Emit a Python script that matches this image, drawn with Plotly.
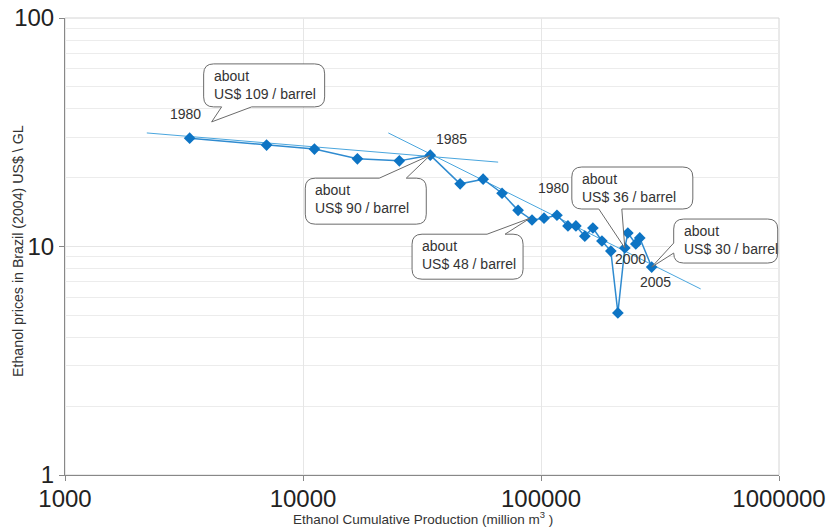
import math
import plotly.graph_objects as go

# ---------------- data ----------------
cum_production = [3340, 7030, 11170, 16930, 25400, 34260, 45730, 57130, 68600, 80120,
                  91680, 102960, 116700, 129800, 140200, 152800, 165200, 180300, 196500,
                  210400, 225000, 231700, 250200, 260000, 291800]
ethanol_price = [29.8, 27.8, 26.7, 24.2, 23.7, 25.1, 18.8, 19.7, 17.1, 14.4,
                 13.06, 13.3, 13.7, 12.3, 12.3, 11.1, 12.05, 10.57, 9.55,
                 5.12, 9.85, 11.46, 10.26, 10.9, 8.13]

trend1_x = [2207, 66050]
trend1_y = [31.4, 23.4]
trend2_x = [22830, 468800]
trend2_y = [31.4, 6.52]

year_labels = ["1980", "1985", "1980", "2000", "2005"]
year_label_index = [0, 5, 12, 20, 24]

callout_texts = ["about<br>US$ 109 / barrel", "about<br>US$ 90 / barrel",
                 "about<br>US$ 48 / barrel", "about<br>US$ 36 / barrel",
                 "about<br>US$ 30 / barrel"]
callout_tip_x = [4132, 34260, 89950, 225000, 291800]
callout_tip_y = [35.1, 25.1, 13.3, 9.85, 8.13]

x_ticks = [1000, 10000, 100000, 1000000]
x_ticktext = ["1000", "10000", "100000", "1000000"]
y_ticks = [1, 10, 100]
y_ticktext = ["1", "10", "100"]
y_minor = [2, 3, 4, 5, 6, 7, 8, 9, 20, 30, 40, 50, 60, 70, 80, 90]

x_title = "Ethanol Cumulative Production (million m<sup>3</sup> )"
y_title = "Ethanol prices in Brazil (2004) US$ \\ GL"

FONT = "Liberation Sans, Arial, sans-serif"
MARK = "#0d74c4"
LINE = "#2f8bd0"
TREND = "#4aa6de"

fig = go.Figure()
fig.add_trace(go.Scatter(x=trend1_x, y=trend1_y, mode="lines",
                         line=dict(color=TREND, width=1), hoverinfo="skip"))
fig.add_trace(go.Scatter(x=trend2_x, y=trend2_y, mode="lines",
                         line=dict(color=TREND, width=1), hoverinfo="skip"))
fig.add_trace(go.Scatter(x=cum_production, y=ethanol_price, mode="lines+markers",
                         line=dict(color=LINE, width=1.5),
                         marker=dict(symbol="diamond", size=9, color=MARK)))

# ---------------- callouts ----------------
# geometry in screen pixels relative to tip: (left, right, top, bottom), tail side, tail base (a,b)
callout_geom = [
    ((-8, 113, -58, -15), "bottom", (10, 40)),
    ((-125, -4, 23, 69), "top", (-51, -24)),
    ((-118, -7, 16, 61), "top", (-43, -25)),
    ((-53, 68, -81, -39), "bottom", (-26, -3)),
    ((22, 126, -48, -4), "left", (-24, -14)),
]


def callout_path(box, side, base, r=10):
    L, R, T, B = box
    a, b = base
    pts = []

    def P(cmd, *xy):
        coords = []
        for i in range(0, len(xy), 2):
            coords.append(f"{xy[i]},{-xy[i + 1]}")
        pts.append(cmd + " " + " ".join(coords))

    P("M", L + r, T)
    if side == "top":
        P("L", a, T); P("L", 0, 0); P("L", b, T)
    P("L", R - r, T)
    P("Q", R, T, R, T + r)
    P("L", R, B - r)
    P("Q", R, B, R - r, B)
    if side == "bottom":
        P("L", b, B); P("L", 0, 0); P("L", a, B)
    P("L", L + r, B)
    P("Q", L, B, L, B - r)
    if side == "left":
        P("L", L, b); P("L", 0, 0); P("L", L, a)
    P("L", L, T + r)
    P("Q", L, T, L + r, T)
    return " ".join(pts) + " Z"


for txt, tx, ty, (box, side, base) in zip(callout_texts, callout_tip_x, callout_tip_y, callout_geom):
    fig.add_shape(type="path", xref="x", yref="y", xsizemode="pixel", ysizemode="pixel",
                  xanchor=tx, yanchor=ty, path=callout_path(box, side, base),
                  line=dict(color="#6b6b6b", width=1), fillcolor="white", layer="above")
    fig.add_annotation(x=math.log10(tx), y=math.log10(ty), xref="x", yref="y",
                       text=txt, showarrow=False, xanchor="left", yanchor="top",
                       align="left", xshift=box[0] + 8, yshift=-(box[2] + 2),
                       font=dict(family=FONT, size=14, color="#333333"))

# ---------------- year labels ----------------
year_offsets = [(-4, 24), (21, 16), (-3, 27), (6, -11), (4, -15)]
for lab, idx, (dx, dy) in zip(year_labels, year_label_index, year_offsets):
    fig.add_annotation(x=math.log10(cum_production[idx]), y=math.log10(ethanol_price[idx]),
                       xref="x", yref="y", text=lab, showarrow=False,
                       xshift=dx, yshift=dy,
                       font=dict(family=FONT, size=14, color="#333333"))

# axis titles
fig.add_annotation(x=0.502, y=-0.094, xref="paper", yref="paper", text=x_title,
                   showarrow=False, xanchor="center", yanchor="middle",
                   font=dict(family=FONT, size=13.5, color="#333333"))
fig.add_annotation(x=-0.066, y=0.49, xref="paper", yref="paper", text=y_title,
                   showarrow=False, xanchor="center", yanchor="middle", textangle=-90,
                   font=dict(family=FONT, size=14.2, color="#333333"))

# light frame on top/right
fig.add_shape(type="rect", xref="paper", yref="paper", x0=0, x1=1, y0=0, y1=1,
              line=dict(color="#d4d4d4", width=1), layer="below")

fig.update_layout(
    width=828, height=527,
    margin=dict(l=65, r=49, t=18, b=52, autoexpand=False),
    paper_bgcolor="white", plot_bgcolor="white",
    showlegend=False,
    font=dict(family=FONT, color="#222222"),
)
fig.update_xaxes(
    type="log", range=[3, 6], automargin=False,
    tickvals=x_ticks, ticktext=x_ticktext,
    tickfont=dict(size=24, color="#222222"),
    ticks="outside", ticklen=5, tickcolor="#888888", ticklabelstandoff=-3,
    showline=True, linecolor="#888888", linewidth=1,
    showgrid=True, gridcolor="#e6e6e6", gridwidth=1,
    zeroline=False,
)
fig.update_yaxes(
    type="log", range=[0, 2], automargin=False,
    tickvals=y_ticks, ticktext=y_ticktext,
    tickfont=dict(size=24, color="#222222"),
    ticks="outside", ticklen=5, tickcolor="#888888",
    showline=True, linecolor="#888888", linewidth=1,
    showgrid=True, gridcolor="#e6e6e6", gridwidth=1,
    minor=dict(tickvals=y_minor, showgrid=True, gridcolor="#ececec", ticklen=0),
    zeroline=False,
)

fig.write_html("out.html", config={"displayModeBar": False},
               post_script="document.body.style.margin='0';")
